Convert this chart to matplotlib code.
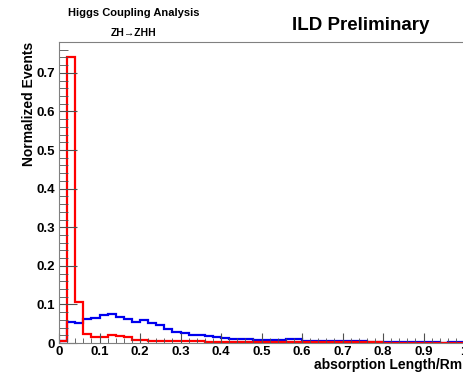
import matplotlib.pyplot as plt
import numpy as np

plt.rcParams['font.family'] = ['Liberation Sans', 'DejaVu Sans']
plt.rcParams['font.weight'] = 'bold'

# 50 bins of width 0.02 from 0 to 1
bin_edges = np.linspace(0, 1, 51)

signal = [0.004, 0.742, 0.105, 0.024, 0.0155, 0.0155, 0.021, 0.018, 0.0155, 0.008,
          0.007, 0.006, 0.005, 0.006, 0.006, 0.006, 0.006, 0.006, 0.0025, 0.0025,
          0.0025, 0.002, 0.002, 0.002, 0.002, 0.002, 0.002, 0.002, 0.002, 0.002,
          0.0025, 0.0025, 0.002, 0.002, 0.0015, 0.0015, 0.0015, 0.0015, 0.0015, 0.0015,
          0.0012, 0.0012, 0.0012, 0.0012, 0.0012, 0.0012, 0.001, 0.001, 0.001, 0.001]
background = [0.006, 0.054, 0.051, 0.062, 0.066, 0.072, 0.074, 0.068, 0.062, 0.054,
              0.060, 0.053, 0.047, 0.036, 0.028, 0.027, 0.022, 0.022, 0.018, 0.015,
              0.012, 0.0095, 0.010, 0.010, 0.009, 0.0085, 0.0085, 0.009, 0.0095, 0.0095,
              0.005, 0.005, 0.005, 0.005, 0.0045, 0.0045, 0.004, 0.004, 0.0035, 0.0035,
              0.0035, 0.0035, 0.0035, 0.0035, 0.0035, 0.0035, 0.0035, 0.001, 0.0035, 0.0035]

fig = plt.figure(figsize=(4.63, 3.75), dpi=100)
ax = fig.add_axes([59 / 463, 32 / 375, 405 / 463, 301 / 375])

ax.stairs(background, bin_edges, color='#0000ee', lw=1.6)
ax.stairs(signal, bin_edges, color='#ff0000', lw=1.6)

ax.set_xlim(0, 1)
ax.set_ylim(0, 0.78)
ax.set_xticks(np.arange(0, 1.01, 0.1))
ax.set_xticklabels(['0', '0.1', '0.2', '0.3', '0.4', '0.5', '0.6', '0.7', '0.8', '0.9', '1'])
ax.set_xticks(np.arange(0, 1.0, 0.02), minor=True)
ax.set_yticks(np.arange(0, 0.75, 0.1))
ax.set_yticklabels(['0', '0.1', '0.2', '0.3', '0.4', '0.5', '0.6', '0.7'])
ax.set_yticks(np.arange(0, 0.78, 0.02), minor=True)

for s in ax.spines.values():
    s.set_color('#808080')
ax.tick_params(which='both', direction='in', color='#505050', labelsize=9.5)
ax.tick_params(axis='x', which='major', length=7, pad=2)
ax.tick_params(axis='x', which='minor', length=3.5)
ax.tick_params(axis='y', which='major', length=13, pad=3)
ax.tick_params(axis='y', which='minor', length=6.5)

fig.text(29 / 463, 1 - 42 / 375, 'Normalized Events', rotation=90, ha='center', va='top',
         fontsize=10, fontweight='bold')
fig.text(462 / 463, 1 - 365 / 375, 'absorption Length/Rm', ha='right', va='center',
         fontsize=10, fontweight='bold')

fig.text(134 / 463, 1 - 13 / 375, 'Higgs Coupling Analysis', ha='center', va='center',
         fontsize=8, fontweight='bold')
fig.text(134 / 463, 1 - 33 / 375, 'ZH\u2192ZHH', ha='center', va='center',
         fontsize=7.5, fontweight='bold')
fig.text(361 / 463, 1 - 26 / 375, 'ILD Preliminary', ha='center', va='center',
         fontsize=13.5, fontweight='bold')

fig.savefig('out.png', dpi=100)
